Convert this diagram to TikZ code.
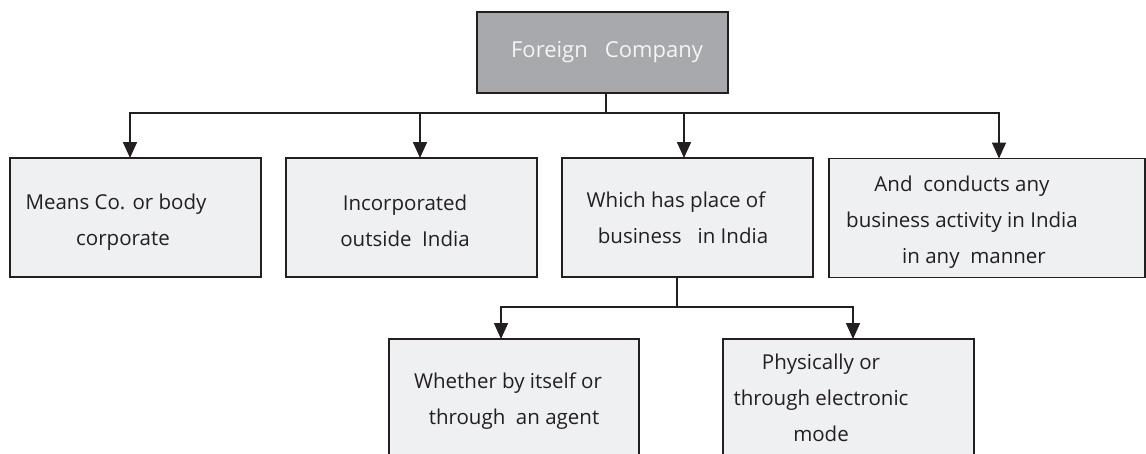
\documentclass[tikz,border=0pt]{standalone}
\usepackage{fontspec}
\setmainfont{Open Sans}
\usetikzlibrary{arrows.meta}
\definecolor{ink}{HTML}{231F20}
\definecolor{boxfill}{HTML}{EFF0F2}
\definecolor{headfill}{HTML}{A7A9AC}
\begin{document}
\begin{tikzpicture}[x=1pt,y=-1pt,
  box/.style={draw=ink,line width=1.6pt,fill=boxfill,inner sep=0pt,outer sep=0pt},
  head/.style={box,fill=headfill},
  txt/.style={align=center,text=ink,font=\fontsize{20.5}{36}\selectfont,inner sep=0pt},
  link/.style={draw=ink,line width=1.6pt},
  arr/.style={link,-{Triangle[width=14pt,length=16pt]}}]
\useasboundingbox (0,0) rectangle (1146,453);
\clip (0,0) rectangle (1146,453);
% boxes
\node[head,minimum width=251pt,minimum height=81pt] (top) at (602.5,52.5) {};
\node[box,minimum width=251pt,minimum height=119pt] (b1) at (135.5,217.5) {};
\node[box,minimum width=251pt,minimum height=119pt] (b2) at (411.5,217.5) {};
\node[box,minimum width=251pt,minimum height=119pt] (b3) at (687.5,217.5) {};
\node[box,minimum width=316pt,minimum height=119pt] (b4) at (987,218) {};
\node[box,minimum width=250pt,minimum height=160pt] (b5) at (514,419) {};
\node[box,minimum width=251pt,minimum height=160pt] (b6) at (848.5,419) {};
% texts
\node[txt,text=white!96!black,font=\fontsize{22}{26}\selectfont] (t0) at (607,52) {Foreign\ \ \ Company};
\node[txt] (t1) at (116,222) {Means Co. or body\\\hspace*{14pt}corporate};
\node[txt] (t2) at (405,221) {Incorporated\\outside\ \ India};
\node[txt] (t3) at (676,218) {Which has place of\\\hspace*{14pt}business\ \ \ in India};
\node[txt] (t4) at (962,222) {And\ \ conducts any\\business activity in India\\\hspace*{24pt}in any\ \ manner};
\node[txt] (t5) at (508,401) {Whether by itself or\\\hspace*{12pt}through\ \ an agent};
\node[txt] (t6) at (821,398) {Physically or\\through electronic\\mode};
% connectors from the head box
\coordinate (j1) at (606,113);
\draw[link] (top.south -| j1) -- (j1);
\draw[arr] (j1) -| ([xshift=-5.5pt]b1.north);
\draw[arr] (j1) -| ([xshift=8.5pt]b2.north);
\draw[arr] (j1) -| ([xshift=-3.5pt]b3.north);
\draw[arr] (j1) -| ([xshift=12pt]b4.north);
% connectors from the third box
\coordinate (j2) at (677,307);
\draw[link] (b3.south -| j2) -- (j2);
\draw[arr] (j2) -| ([xshift=-13pt]b5.north);
\draw[arr] (j2) -| ([xshift=4.5pt]b6.north);
\end{tikzpicture}
\end{document}
